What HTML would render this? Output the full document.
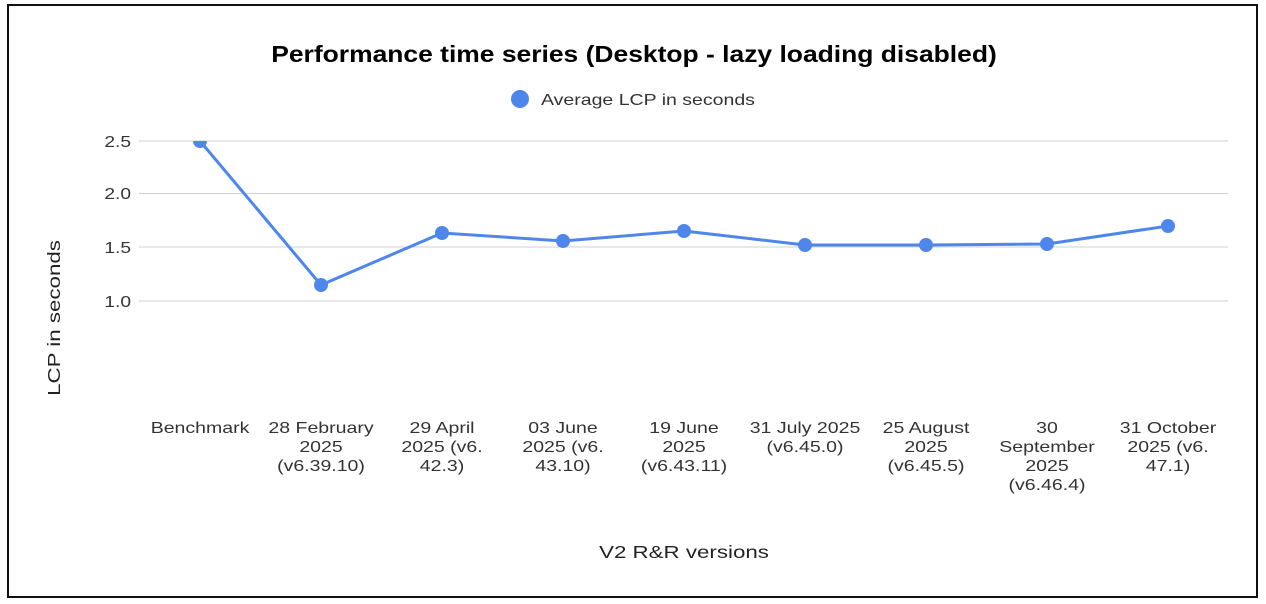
<!DOCTYPE html>
<html><head><style>
html,body{margin:0;padding:0;background:#fff;}
svg{display:block;}
text{font-family:"Liberation Sans",Arial,sans-serif;}
</style></head><body>
<svg width="1266" height="604" viewBox="0 0 1266 604">
<rect x="0" y="0" width="1266" height="604" fill="#fff"/>
<rect x="8" y="5" width="1249" height="592" fill="none" stroke="#111" stroke-width="2"/>
<g transform="translate(634,0) scale(1.15,1)"><text x="0" y="62" text-anchor="middle" font-size="23" font-weight="bold" fill="#000">Performance time series (Desktop - lazy loading disabled)</text></g>
<circle cx="520" cy="99" r="9" fill="#4f86ec"/>
<g transform="translate(541,0) scale(1.22,1)"><text x="0" y="105" font-size="16" fill="#333">Average LCP in seconds</text></g>
<g stroke="#d0d0d0" stroke-width="1">
<line x1="139" y1="141" x2="1228" y2="141"/>
<line x1="139" y1="193.5" x2="1228" y2="193.5"/>
<line x1="139" y1="247" x2="1228" y2="247"/>
<line x1="139" y1="301" x2="1228" y2="301"/>
</g>
<g transform="translate(131,0) scale(1.2,1)" font-size="16" fill="#333" text-anchor="end">
<text x="0" y="147">2.5</text>
<text x="0" y="199">2.0</text>
<text x="0" y="253">1.5</text>
<text x="0" y="307">1.0</text>
</g>
<g transform="translate(60,318) rotate(-90) scale(1.24,1)"><text x="0" y="0" text-anchor="middle" font-size="18" fill="#222">LCP in seconds</text></g>
<defs><clipPath id="c"><rect x="139" y="141" width="1100" height="300"/></clipPath></defs>
<g clip-path="url(#c)">
<polyline fill="none" stroke="#4f86ec" stroke-width="3" points="200,141 321,285 442,233 563,241 684,231 805,245 926,245 1047,244 1168,226"/>
<g fill="#4f86ec">
<circle cx="200" cy="141" r="7"/><circle cx="321" cy="285" r="7"/><circle cx="442" cy="233" r="7"/><circle cx="563" cy="241" r="7"/><circle cx="684" cy="231" r="7"/><circle cx="805" cy="245" r="7"/><circle cx="926" cy="245" r="7"/><circle cx="1047" cy="244" r="7"/><circle cx="1168" cy="226" r="7"/>
</g></g>
<g font-size="16" fill="#333" text-anchor="middle">
<g transform="translate(200,0) scale(1.22,1)"><text x="0" y="433">Benchmark</text></g>
<g transform="translate(321,0) scale(1.22,1)"><text x="0" y="433">28 February<tspan x="0" dy="19">2025</tspan><tspan x="0" dy="19">(v6.39.10)</tspan></text></g>
<g transform="translate(442,0) scale(1.22,1)"><text x="0" y="433">29 April<tspan x="0" dy="19">2025 (v6.</tspan><tspan x="0" dy="19">42.3)</tspan></text></g>
<g transform="translate(563,0) scale(1.22,1)"><text x="0" y="433">03 June<tspan x="0" dy="19">2025 (v6.</tspan><tspan x="0" dy="19">43.10)</tspan></text></g>
<g transform="translate(684,0) scale(1.22,1)"><text x="0" y="433">19 June<tspan x="0" dy="19">2025</tspan><tspan x="0" dy="19">(v6.43.11)</tspan></text></g>
<g transform="translate(805,0) scale(1.22,1)"><text x="0" y="433">31 July 2025<tspan x="0" dy="19">(v6.45.0)</tspan></text></g>
<g transform="translate(926,0) scale(1.22,1)"><text x="0" y="433">25 August<tspan x="0" dy="19">2025</tspan><tspan x="0" dy="19">(v6.45.5)</tspan></text></g>
<g transform="translate(1047,0) scale(1.22,1)"><text x="0" y="433">30<tspan x="0" dy="19">September</tspan><tspan x="0" dy="19">2025</tspan><tspan x="0" dy="19">(v6.46.4)</tspan></text></g>
<g transform="translate(1168,0) scale(1.22,1)"><text x="0" y="433">31 October<tspan x="0" dy="19">2025 (v6.</tspan><tspan x="0" dy="19">47.1)</tspan></text></g>
</g>
<g transform="translate(684,0) scale(1.24,1)"><text x="0" y="558" text-anchor="middle" font-size="18" fill="#222">V2 R&amp;R versions</text></g>
</svg>
</body></html>
